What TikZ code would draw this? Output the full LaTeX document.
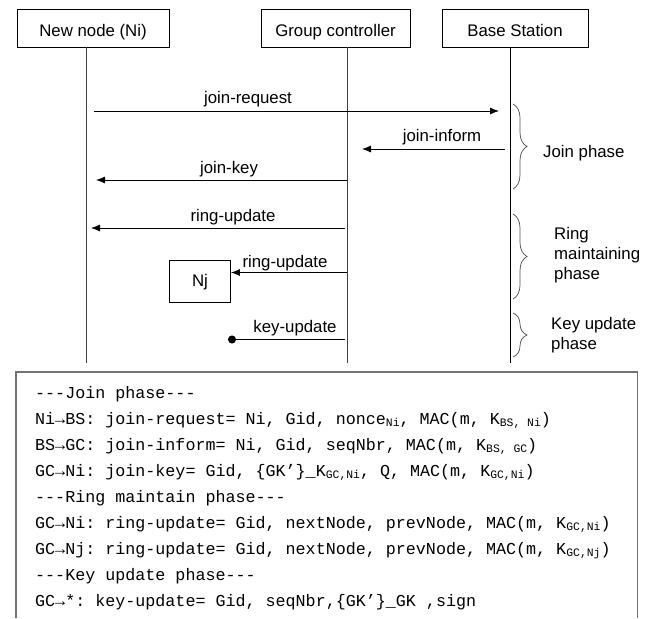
\documentclass[tikz,border=0pt]{standalone}
\usepackage{fontspec}
\setmainfont{Liberation Sans}
\setmonofont{Liberation Mono}
\usetikzlibrary{arrows.meta,decorations.pathreplacing}

\newcommand{\lowidx}[1]{\raisebox{-2pt}{\fontsize{11.4}{12}\selectfont #1}}
\newcommand{\sendto}{\textbf{→}}

\tikzset{
  actor/.style={draw, line width=0.8pt, minimum height=38pt, inner sep=0pt,
    text height=18pt, text depth=0pt, font=\fontsize{16.8}{20}\selectfont},
  msg/.style={line width=0.8pt, -{Latex[length=9pt,width=7pt]}},
  msgtext/.style={font=\fontsize{16.8}{20}\selectfont, inner sep=0pt},
  phase/.style={gray!60!black, line width=0.7pt, decorate,
    decoration={brace, amplitude=14pt}},
  phasetext/.style={font=\fontsize{16.8}{20}\selectfont, align=left,
    anchor=west, inner sep=0pt},
  codeline/.style={font=\ttfamily\fontsize{16.7}{20}\selectfont,
    anchor=base west, inner sep=0pt},
}

\begin{document}
\begin{tikzpicture}[x=1pt, y=-1pt]
\useasboundingbox (0,0) rectangle (650,618);

% 参与者和生命线
\foreach \name/\cx/\bw/\lx/\col/\txt in {ni/93/152/86/black!75/New node (Ni),
    gc/335.5/149/347/black!75/Group controller, bs/515/146/510/black/Base Station}
{
  \node[actor, minimum width=\bw pt] (\name) at (\cx,28) {\txt};
  \coordinate (\name-end) at (\lx,363);
  \draw[\col, line width=0.9pt] (\name.south -| \name-end) -- (\name-end);
}

% 消息
\coordinate (req-s) at (94,111);  \coordinate (req-e) at (499,111);
\coordinate (inf-s) at (505,149); \coordinate (inf-e) at (362,149);
\coordinate (key-s) at (347,180); \coordinate (key-e) at (96,180);
\coordinate (ru1-s) at (345,228); \coordinate (ru1-e) at (91,228);
\coordinate (ru2-s) at (347,272.5);
\coordinate (ku-s) at (345,339.5); \coordinate (ku-e) at (228,339.5);

\node[draw, line width=0.8pt, minimum width=61pt, minimum height=42pt,
  font=\fontsize{16.8}{20}\selectfont] (nj) at (200,281.7) {Nj};

\draw[msg] (req-s) -- (req-e);
\draw[msg] (inf-s) -- (inf-e);
\draw[msg] (key-s) -- (key-e);
\draw[msg] (ru1-s) -- (ru1-e);
\draw[msg] (ru2-s) -- (ru2-s -| nj.east);
\draw[line width=0.8pt, -{Circle[length=8pt]}] (ku-s) -- (ku-e);

\node[msgtext] (req-lbl) at (248,99) {join-request};
\node[msgtext] (inf-lbl) at (442,137) {join-inform};
\node[msgtext] (key-lbl) at (229,169) {join-key};
\node[msgtext] (ru1-lbl) at (233,217) {ring-update};
\node[msgtext] (ru2-lbl) at (285,263) {ring-update};
\node[msgtext] (ku-lbl) at (295,328) {key-update};

% 阶段
\draw[phase] (513,104) -- (513,189);
\draw[phase] (513,214) -- (513,299);
\draw[phase] (513,313) -- (513,357);
\node[phasetext] (join-ph) at (543,153) {Join phase};
\node[phasetext] (ring-ph) at (554,255) {Ring\\maintaining\\phase};
\node[phasetext] (key-ph) at (551,335) {Key update\\phase};

% 消息格式
\draw[black!55, line width=1.3pt] (16,618) |- (637.5,372) -- (637.5,618);
\node[codeline] (l1) at (35,398) {---Join phase---};
\node[codeline] (l2) at (35,424) {Ni\sendto BS: join-request= Ni, Gid, nonce\lowidx{Ni}, MAC(m, K\lowidx{BS, Ni})};
\node[codeline] (l3) at (35,450) {BS\sendto GC: join-inform= Ni, Gid, seqNbr, MAC(m, K\lowidx{BS, GC})};
\node[codeline] (l4) at (35,476) {GC\sendto Ni: join-key= Gid, \{GK’\}\_K\lowidx{GC,Ni}, Q, MAC(m, K\lowidx{GC,Ni})};
\node[codeline] (l5) at (35,502) {---Ring maintain phase---};
\node[codeline] (l6) at (35,528) {GC\sendto Ni: ring-update= Gid, nextNode, prevNode, MAC(m, K\lowidx{GC,Ni})};
\node[codeline] (l7) at (35,554) {GC\sendto Nj: ring-update= Gid, nextNode, prevNode, MAC(m, K\lowidx{GC,Nj})};
\node[codeline] (l8) at (35,580) {---Key update phase---};
\node[codeline] (l9) at (35,606) {GC\sendto *: key-update= Gid, seqNbr,\{GK’\}\_GK ,sign};
\end{tikzpicture}
\end{document}
